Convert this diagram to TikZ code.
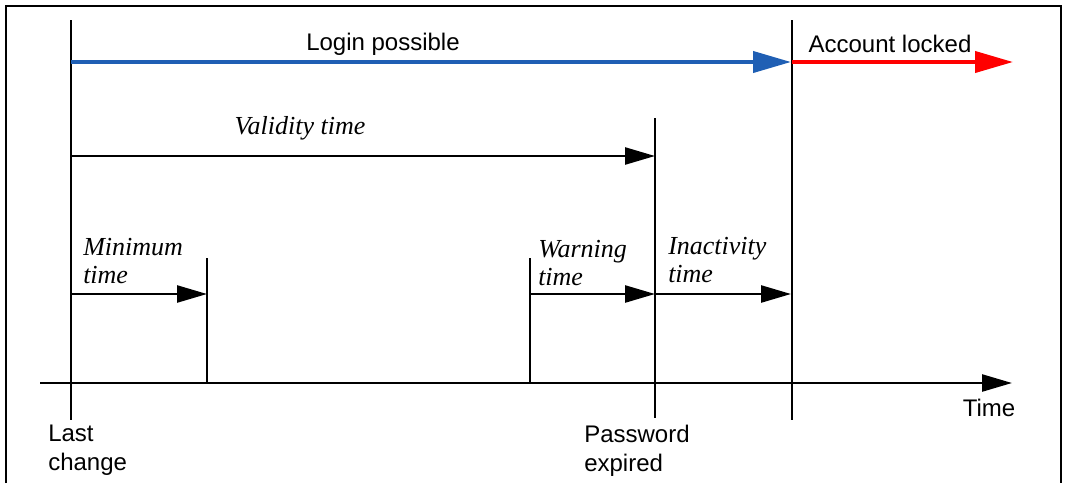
\documentclass[tikz,border=0pt]{standalone}
\usepackage{fontspec}
\setmainfont{Liberation Sans}
\newfontfamily\tmsfont{Liberation Serif}
\usetikzlibrary{arrows.meta}
\definecolor{loginblue}{RGB}{31,95,180}

\tikzset{
    bigtip/.style={-{Triangle[length=38pt, width=21pt]}, line width=4pt},
    smalltip/.style={-{Triangle[length=30pt, width=17pt]}, line width=2.5pt},
    sanslabel/.style={font=\fontsize{24}{29}\selectfont, inner sep=0pt},
    itlabel/.style={font=\tmsfont\itshape\fontsize{26}{28}\selectfont, inner sep=0pt, align=left}
}

\begin{document}
\begin{tikzpicture}[x=1pt, y=-1pt, line width=2.5pt]
                                \useasboundingbox (0, 0) rectangle (1066, 483);
                                \draw[line width=2pt] (6, 483) -- (6, 6) -- (1061, 6) -- (1061, 483);
                                % points on the time line
                                \coordinate (lcTop) at (71, 20);
                                \coordinate (lcBot) at (71, 420);
                                \coordinate (lockTop) at (792, 20);
                                \coordinate (lockBot) at (792, 420);
                                \coordinate (expTop) at (655, 118);
                                \coordinate (expBot) at (655, 418);
                                \coordinate (minTop) at (207, 258);
                                \coordinate (minBot) at (207, 383);
                                \coordinate (warnTop) at (530, 258);
                                \coordinate (warnBot) at (530, 383);
                                \coordinate (axStart) at (40, 383);
                                \coordinate (axEnd) at (1012, 383);
                                % arrow ends
                                \coordinate (loginA) at (71, 62);
                                \coordinate (loginB) at (791, 62);
                                \coordinate (lockA) at (792, 62);
                                \coordinate (lockB) at (1013, 62);
                                \coordinate (validA) at (71, 156);
                                \coordinate (validB) at (655, 156);
                                \coordinate (minA) at (71, 294);
                                \coordinate (minB) at (207, 294);
                                \coordinate (warnA) at (530, 294);
                                \coordinate (warnB) at (655, 294);
                                \coordinate (inactB) at (791, 294);
                                \draw
                                (lcTop) -- (lcBot)
                                (lockTop) -- (lockBot)
                                (expTop) -- (expBot)
                                (minTop) -- (minBot)
                                (warnTop) -- (warnBot);
                                \draw[smalltip] (axStart) -- (axEnd);
                                \draw[bigtip, loginblue] (loginA) -- (loginB);
                                \draw[bigtip, red] (lockA) -- (lockB);
                                \draw[smalltip] (validA) -- (validB);
                                \draw[smalltip] (minA) -- (minB);
                                \draw[smalltip] (warnA) -- (warnB);
                                \draw[smalltip] (warnB) -- (inactB);
                                \node[sanslabel] (login) at (383, 44) {Login possible};
                                \node[sanslabel] (locked) at (890, 44) {Account locked};
                                \node[itlabel] (valid) at (300, 128) {Validity time};
                                \node[itlabel, anchor=north west] (mintime) at (82, 237) {Minimum\\time};
                                \node[itlabel, anchor=north west] (warntime) at (537, 239) {Warning\\time};
                                \node[itlabel, anchor=north west] (inacttime) at (667, 236) {Inactivity\\time};
                                \node[sanslabel] (time) at (989, 408) {Time};
                                \node[sanslabel, anchor=north west, align=left] (lastchange) at (47, 424) {Last\\change};
                                \node[sanslabel, anchor=north west, align=left] (pwexpired) at (583, 424) {Password\\expired};
                            \end{tikzpicture}
\end{document}
